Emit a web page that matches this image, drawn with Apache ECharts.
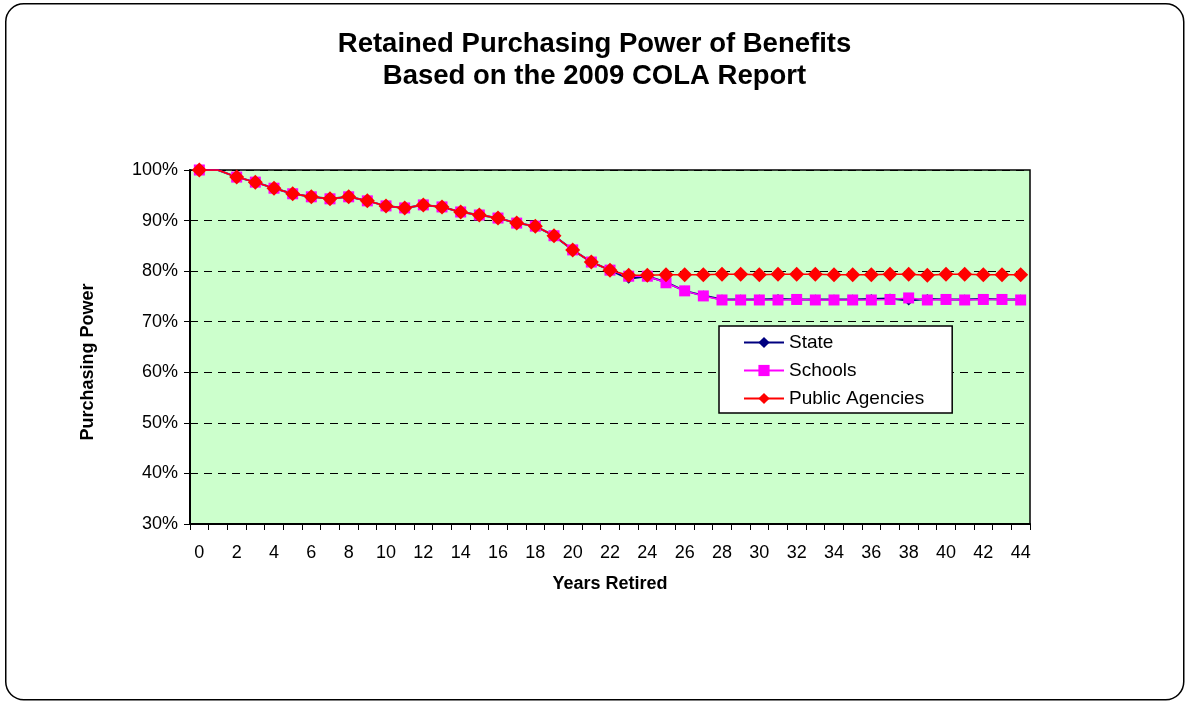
<!DOCTYPE html>
<html>
<head>
<meta charset="utf-8">
<script src="https://cdn.jsdelivr.net/npm/echarts@6/dist/echarts.min.js"></script>
<style>html,body{margin:0;padding:0;background:#fff}#c{width:1189px;height:705px}</style>
</head>
<body>
<div id="c"></div>
<script>
const years = ['0','1','2','3','4','5','6','7','8','9','10','11','12','13','14','15','16','17','18','19','20','21','22','23','24','25','26','27','28','29','30','31','32','33','34','35','36','37','38','39','40','41','42','43','44'];
const common = [100,100,98.6,97.6,96.4,95.3,94.7,94.3,94.7,93.9,92.9,92.5,93.1,92.7,91.7,91.1,90.5,89.5,88.9,87.0,84.2,81.8,80.2];
const stateTail = [78.5,79.0,77.8,76.1,75.2,74.4,74.4,74.4,74.5,74.4,74.4,74.4,74.4,74.5,74.6,74.2,74.5,74.4,74.4,74.5,74.4,74.4];
const schoolsTail = [79.0,79.0,77.7,76.1,75.1,74.3,74.3,74.3,74.3,74.4,74.3,74.3,74.3,74.3,74.4,74.7,74.3,74.4,74.3,74.4,74.4,74.3];
const agenciesTail = [79.2,79.2,79.3,79.3,79.3,79.4,79.4,79.3,79.4,79.4,79.4,79.3,79.3,79.3,79.4,79.4,79.2,79.4,79.4,79.3,79.3,79.3];
const state = common.concat(stateTail);
const schools = common.concat(schoolsTail);
const agencies = common.concat(agenciesTail);
const yTicks = [30,40,50,60,70,80,90,100];

const chart = echarts.init(document.getElementById('c'));
const font = 'Arial, "Liberation Sans", sans-serif';
function sizeFn(base){ return function(v, p){ return p.dataIndex === 1 ? 0 : base; }; }
chart.setOption({
  animation: false,
  textStyle: {fontFamily: font},
  graphic: [{
    type: 'rect', left: 5, top: 3, z: -10,
    shape: {width: 1178, height: 696, r: 18},
    style: {fill: '#fff', stroke: '#000', lineWidth: 1.5}
  }],
  title: {
    text: 'Retained Purchasing Power of Benefits\nBased on the 2009 COLA Report',
    left: 'center', top: 23,
    textStyle: {fontSize: 27.5, fontWeight: 'bold', color: '#000', lineHeight: 32, fontFamily: font}
  },
  grid: {left: 190, right: 159, top: 170, bottom: 181, show: true, backgroundColor: '#CCFFCC', borderColor: '#000', borderWidth: 1.5},
  legend: {
    orient: 'vertical', left: 719, top: 326,
    backgroundColor: '#fff', borderColor: '#000', borderWidth: 1.5,
    padding: [7, 28, 5, 24], itemGap: 9, itemWidth: 40, itemHeight: 14,
    textStyle: {fontSize: 19, color: '#000', fontFamily: font},
    data: ['State', 'Schools', 'Public Agencies']
  },
  xAxis: {
    type: 'category', data: years, boundaryGap: true,
    name: 'Years Retired', nameLocation: 'middle', nameGap: 51,
    nameTextStyle: {fontSize: 18, fontWeight: 'bold', color: '#000', fontFamily: font},
    axisLine: {lineStyle: {color: '#000', width: 2}},
    axisTick: {show: true, interval: 0, length: 6, lineStyle: {color: '#000'}},
    axisLabel: {interval: 1, fontSize: 18, color: '#000', margin: 20, fontFamily: font},
    splitLine: {show: false}
  },
  yAxis: {
    type: 'value', min: yTicks[0], max: yTicks[yTicks.length-1], interval: 10,
    name: 'Purchasing Power', nameLocation: 'middle', nameGap: 93, nameRotate: 90,
    nameTextStyle: {fontSize: 18, fontWeight: 'bold', color: '#000', fontFamily: font, padding: [0, 30, 0, 0]},
    axisLine: {show: true, lineStyle: {color: '#000', width: 2}},
    axisTick: {show: true, length: 6, lineStyle: {color: '#000'}},
    axisLabel: {formatter: '{value}%', fontSize: 18, color: '#000', margin: 12, fontFamily: font},
    splitLine: {show: true, lineStyle: {color: '#000', type: [8, 6], width: 1}}
  },
  series: [
    {name: 'State', type: 'line', data: state, symbol: 'diamond', symbolSize: sizeFn(10), showAllSymbol: true,
     lineStyle: {color: '#000080', width: 2}, itemStyle: {color: '#000080'}},
    {name: 'Schools', type: 'line', data: schools, symbol: 'rect', symbolSize: sizeFn(11), showAllSymbol: true,
     lineStyle: {color: '#FF00FF', width: 1.5}, itemStyle: {color: '#FF00FF'}},
    {name: 'Public Agencies', type: 'line', data: agencies, symbol: 'diamond', symbolSize: sizeFn(15), showAllSymbol: true,
     lineStyle: {color: '#FF0000', width: 1.5}, itemStyle: {color: '#FF0000'}}
  ]
});
</script>
</body>
</html>
